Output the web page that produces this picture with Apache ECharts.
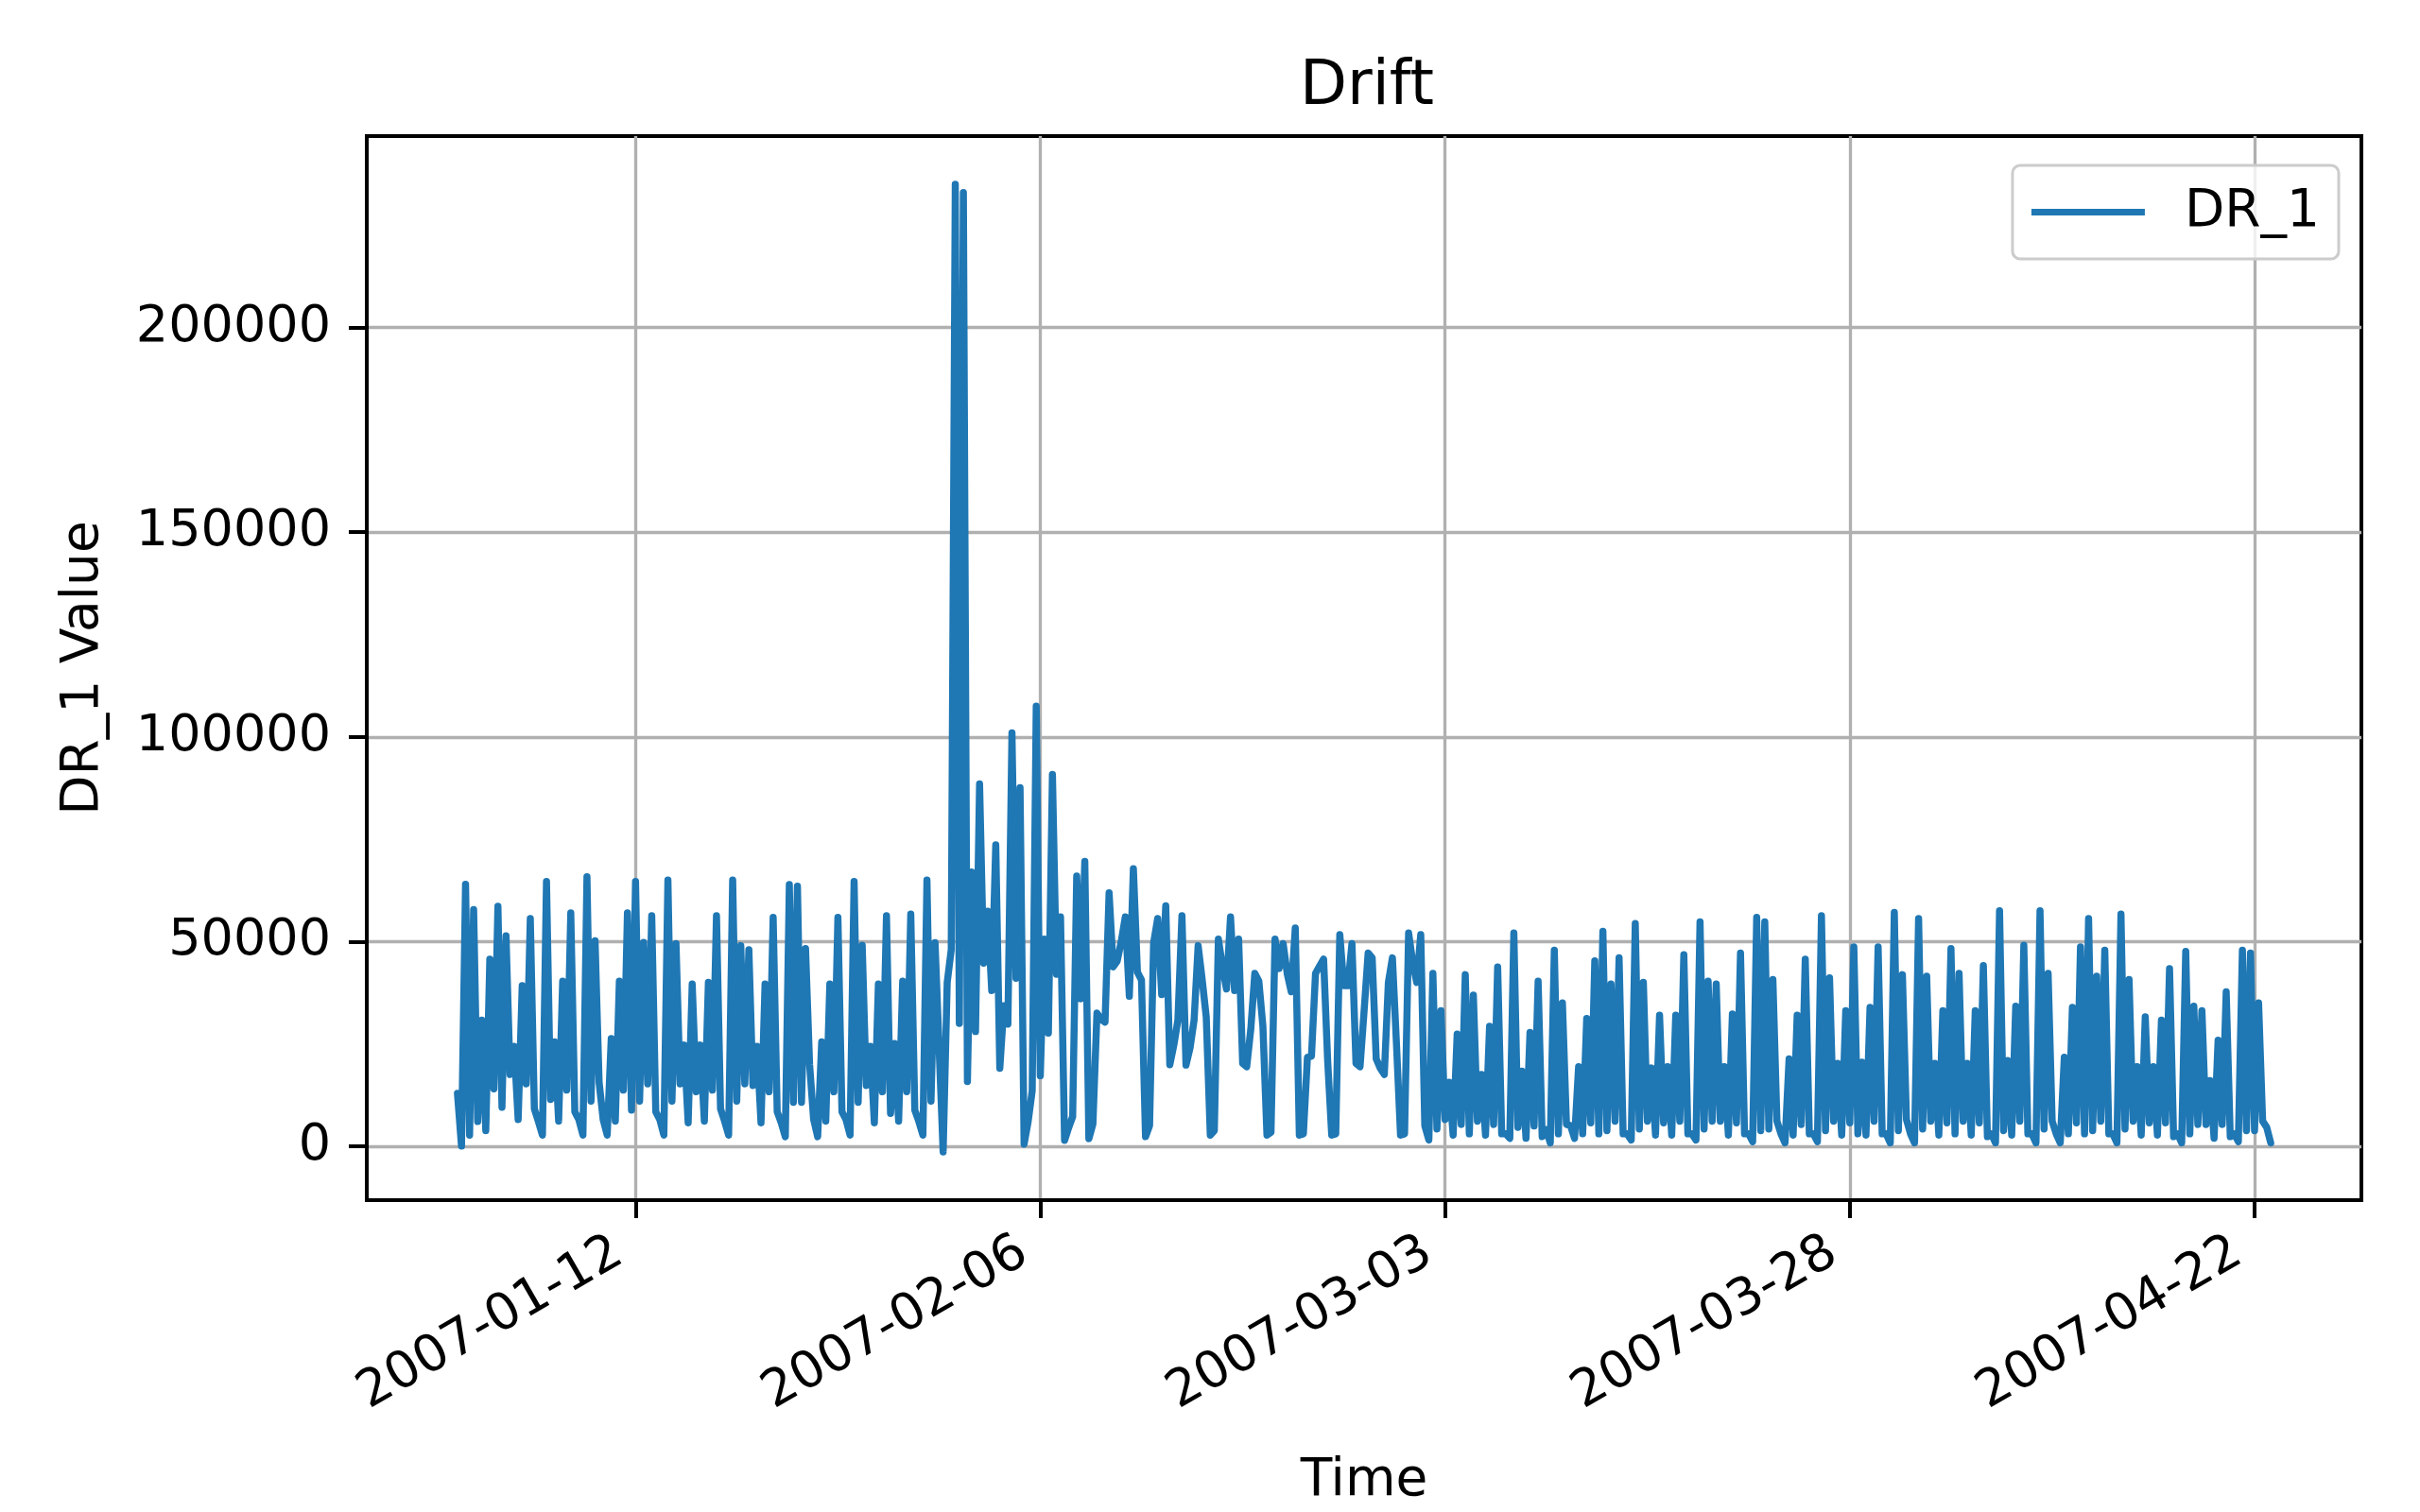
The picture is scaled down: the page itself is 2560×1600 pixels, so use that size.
<!DOCTYPE html>
<html>
<head>
<meta charset="utf-8">
<script src="https://cdn.jsdelivr.net/npm/echarts@6/dist/echarts.min.js"></script>
<style>
  html, body { margin: 0; padding: 0; background: #fff; }
  #main { width: 2560px; height: 1600px; }
</style>
</head>
<body>
<div id="main"></div>
<script>
// DR_1 readings, one every 6 hours from 2007-01-01 00:00 (UTC)
const startTime = Date.UTC(2007, 0, 1, 0, 0);
const stepMs = 6 * 3600 * 1000;

const dr1Values = [
  12900, 0, 64000, 2700, 57800, 6000, 30800, 3800, 45700, 14000,
  58600, 9500, 51400, 17500, 24400, 6500, 39200, 15200, 55600, 9100,
  6000, 2700, 64700, 11400, 25500, 6100, 40300, 13700, 57000, 8400,
  6500, 2700, 65800, 11000, 50200, 15600, 6500, 2700, 26300, 6100,
  40300, 13700, 57000, 8800, 64700, 11000, 49800, 15200, 56300, 8400,
  6500, 2700, 65000, 11000, 49500, 15200, 24700, 5700, 39600, 13300,
  24700, 6100, 40000, 13700, 56300, 9100, 6100, 2700, 65000, 11000,
  49000, 15200, 48000, 14800, 24400, 5700, 39600, 13300, 55900, 8400,
  5700, 2300, 63900, 10700, 63500, 10700, 48300, 20000, 6500, 2300,
  25500, 6100, 39600, 13300, 55900, 8400, 6500, 2700, 64700, 10700,
  49100, 14800, 24400, 5700, 39600, 13300, 56300, 8000, 25100, 6100,
  40300, 13300, 56700, 8800, 6000, 2700, 65000, 11000, 49700, 24000,
  -1400, 40000, 48000, 235000, 30000, 233000, 15800, 67000, 28000, 88500,
  44700, 57400, 38000, 73600, 19000, 34300, 29800, 101000, 41000, 87600,
  500, 6000, 13500, 107500, 17200, 50600, 27600, 90800, 42000, 56000,
  1400, 4500, 7200, 66000, 36000, 69600, 1800, 5400, 32500, 31000,
  30300, 61900, 43800, 45200, 50000, 56000, 36600, 67800, 42500, 40600,
  2300, 5000, 49700, 55600, 37000, 58700, 19900, 24700, 30800, 56300,
  19800, 24000, 30800, 49000, 40700, 31600, 2700, 3800, 50600, 44000,
  38400, 56000, 38000, 50600, 20200, 19400, 28500, 42200, 40300, 29300,
  2700, 3400, 50600, 43400, 49500, 42200, 37700, 53300, 2700, 3000,
  21700, 22000, 42200, 44000, 45700, 20900, 2700, 3000, 51700, 39200,
  39200, 49500, 20200, 19400, 33000, 47200, 46000, 21300, 19000, 17500,
  40000, 46000, 25000, 2700, 3000, 52100, 45000, 40000, 51700, 5000,
  1500, 42200, 4200, 33100, 6500, 15600, 2700, 27400, 5300, 41900,
  3000, 36900, 6100, 17500, 2700, 29300, 5300, 43800, 3000, 3000,
  1900, 52100, 4600, 18300, 1900, 27800, 4900, 40300, 2300, 4000,
  800, 47900, 3000, 35000, 5300, 5000, 1900, 19400, 3000, 31200,
  5700, 45300, 3000, 52500, 3800, 39600, 6100, 46000, 3000, 3000,
  1500, 54400, 4200, 40000, 6100, 19100, 2700, 32000, 5700, 19400,
  2700, 32000, 6100, 46800, 3000, 3000, 1500, 54800, 4200, 40300,
  6100, 39600, 6100, 19400, 2700, 32300, 5700, 47200, 3000, 3000,
  1100, 55900, 3800, 54800, 4200, 40700, 6100, 3000, 800, 21300,
  2700, 32000, 5300, 45700, 3000, 3000, 1100, 56300, 3800, 41100,
  6100, 20200, 2700, 33100, 5700, 48700, 3000, 20500, 2700, 33900,
  6100, 48700, 3000, 3000, 800, 57100, 3800, 41900, 6500, 3000,
  800, 55600, 4200, 41500, 6100, 20200, 2700, 33100, 5700, 48300,
  3000, 42200, 6100, 20200, 2700, 33100, 5700, 44100, 2300, 3000,
  800, 57500, 3800, 20900, 2700, 34200, 6100, 49100, 3000, 3000,
  800, 57500, 4200, 42200, 6100, 3000, 800, 21700, 3000, 33900,
  5700, 48700, 3000, 55600, 3800, 41500, 6100, 47900, 3000, 3000,
  800, 56700, 4200, 40700, 6100, 19400, 2700, 31600, 5700, 19400,
  2700, 30800, 5700, 43400, 2300, 3000, 800, 47600, 3000, 34200,
  5300, 33100, 5300, 16000, 1900, 25900, 5300, 37700, 2300, 3000,
  1100, 47900, 3800, 47200, 3800, 35000, 6100, 4600, 800
];

const xTickDates = [
  Date.UTC(2007, 0, 12),
  Date.UTC(2007, 1, 6),
  Date.UTC(2007, 2, 3),
  Date.UTC(2007, 2, 28),
  Date.UTC(2007, 3, 22)
];
const yTicks = [0, 50000, 100000, 150000, 200000];

const xMin = Date.UTC(2006, 11, 26, 9, 36);
const xMax = Date.UTC(2007, 3, 28, 14, 24);
const yMin = -13200;
const yMax = 246800;

const FONT = 'DejaVu Sans';

function pad(n) {
  return n < 10 ? '0' + n : '' + n;
}

function fmtDate(v) {
  const d = new Date(v);
  return d.getUTCFullYear() + '-' + pad(d.getUTCMonth() + 1) + '-' + pad(d.getUTCDate());
}

const seriesData = dr1Values.map((v, i) => [startTime + i * stepMs, v]);

const chart = echarts.init(document.getElementById('main'));

const option = {
  animation: false,
  backgroundColor: '#ffffff',
  title: {
    text: 'Drift',
    left: 1370,
    top: 56,
    textStyle: { fontFamily: FONT, fontSize: 65, fontWeight: 'normal', color: '#000' }
  },
  legend: {
    right: 86,
    top: 175,
    data: ['DR_1'],
    icon: 'rect',
    itemWidth: 120,
    itemHeight: 7,
    padding: [22, 20, 22, 20],
    borderColor: '#cccccc',
    borderWidth: 3,
    borderRadius: 8,
    backgroundColor: 'rgba(255,255,255,0.8)',
    textStyle: { fontFamily: FONT, fontSize: 55, color: '#000', padding: [0, 0, 0, 37] }
  },
  grid: {
    left: 388,
    right: 62,
    top: 144,
    bottom: 320,
    show: true,
    borderColor: '#000',
    borderWidth: 4
  },
  xAxis: {
    type: 'value',
    min: xMin,
    max: xMax,
    name: 'Time',
    nameLocation: 'middle',
    nameGap: 270,
    nameTextStyle: { fontFamily: FONT, fontSize: 55, color: '#000' },
    axisLine: { show: true, onZero: false, lineStyle: { color: '#000', width: 4 } },
    axisTick: { show: true, length: 19, lineStyle: { color: '#000', width: 4 }, customValues: xTickDates },
    axisLabel: {
      customValues: xTickDates,
      formatter: fmtDate,
      rotate: 30,
      margin: 42,
      padding: [0, 20, 0, 0],
      fontFamily: FONT,
      fontSize: 54,
      color: '#000'
    },
    splitLine: { show: true, lineStyle: { color: '#b0b0b0', width: 3.3 } }
  },
  yAxis: {
    type: 'value',
    min: yMin,
    max: yMax,
    name: 'DR_1 Value',
    nameLocation: 'middle',
    nameGap: 272,
    nameTextStyle: { fontFamily: FONT, fontSize: 55, color: '#000' },
    axisLine: { show: true, onZero: false, lineStyle: { color: '#000', width: 4 } },
    axisTick: { show: true, length: 19, lineStyle: { color: '#000', width: 4 }, customValues: yTicks },
    axisLabel: {
      customValues: yTicks,
      formatter: (v) => String(v),
      margin: 38,
      fontFamily: FONT,
      fontSize: 54,
      color: '#000'
    },
    splitLine: { show: true, lineStyle: { color: '#b0b0b0', width: 3.3 } }
  },
  series: [
    {
      name: 'DR_1',
      type: 'line',
      data: seriesData,
      showSymbol: false,
      symbol: 'none',
      color: '#1f77b4',
      lineStyle: { color: '#1f77b4', width: 7.5, join: 'round', cap: 'round' }
    }
  ]
};

chart.setOption(option);
</script>
</body>
</html>
